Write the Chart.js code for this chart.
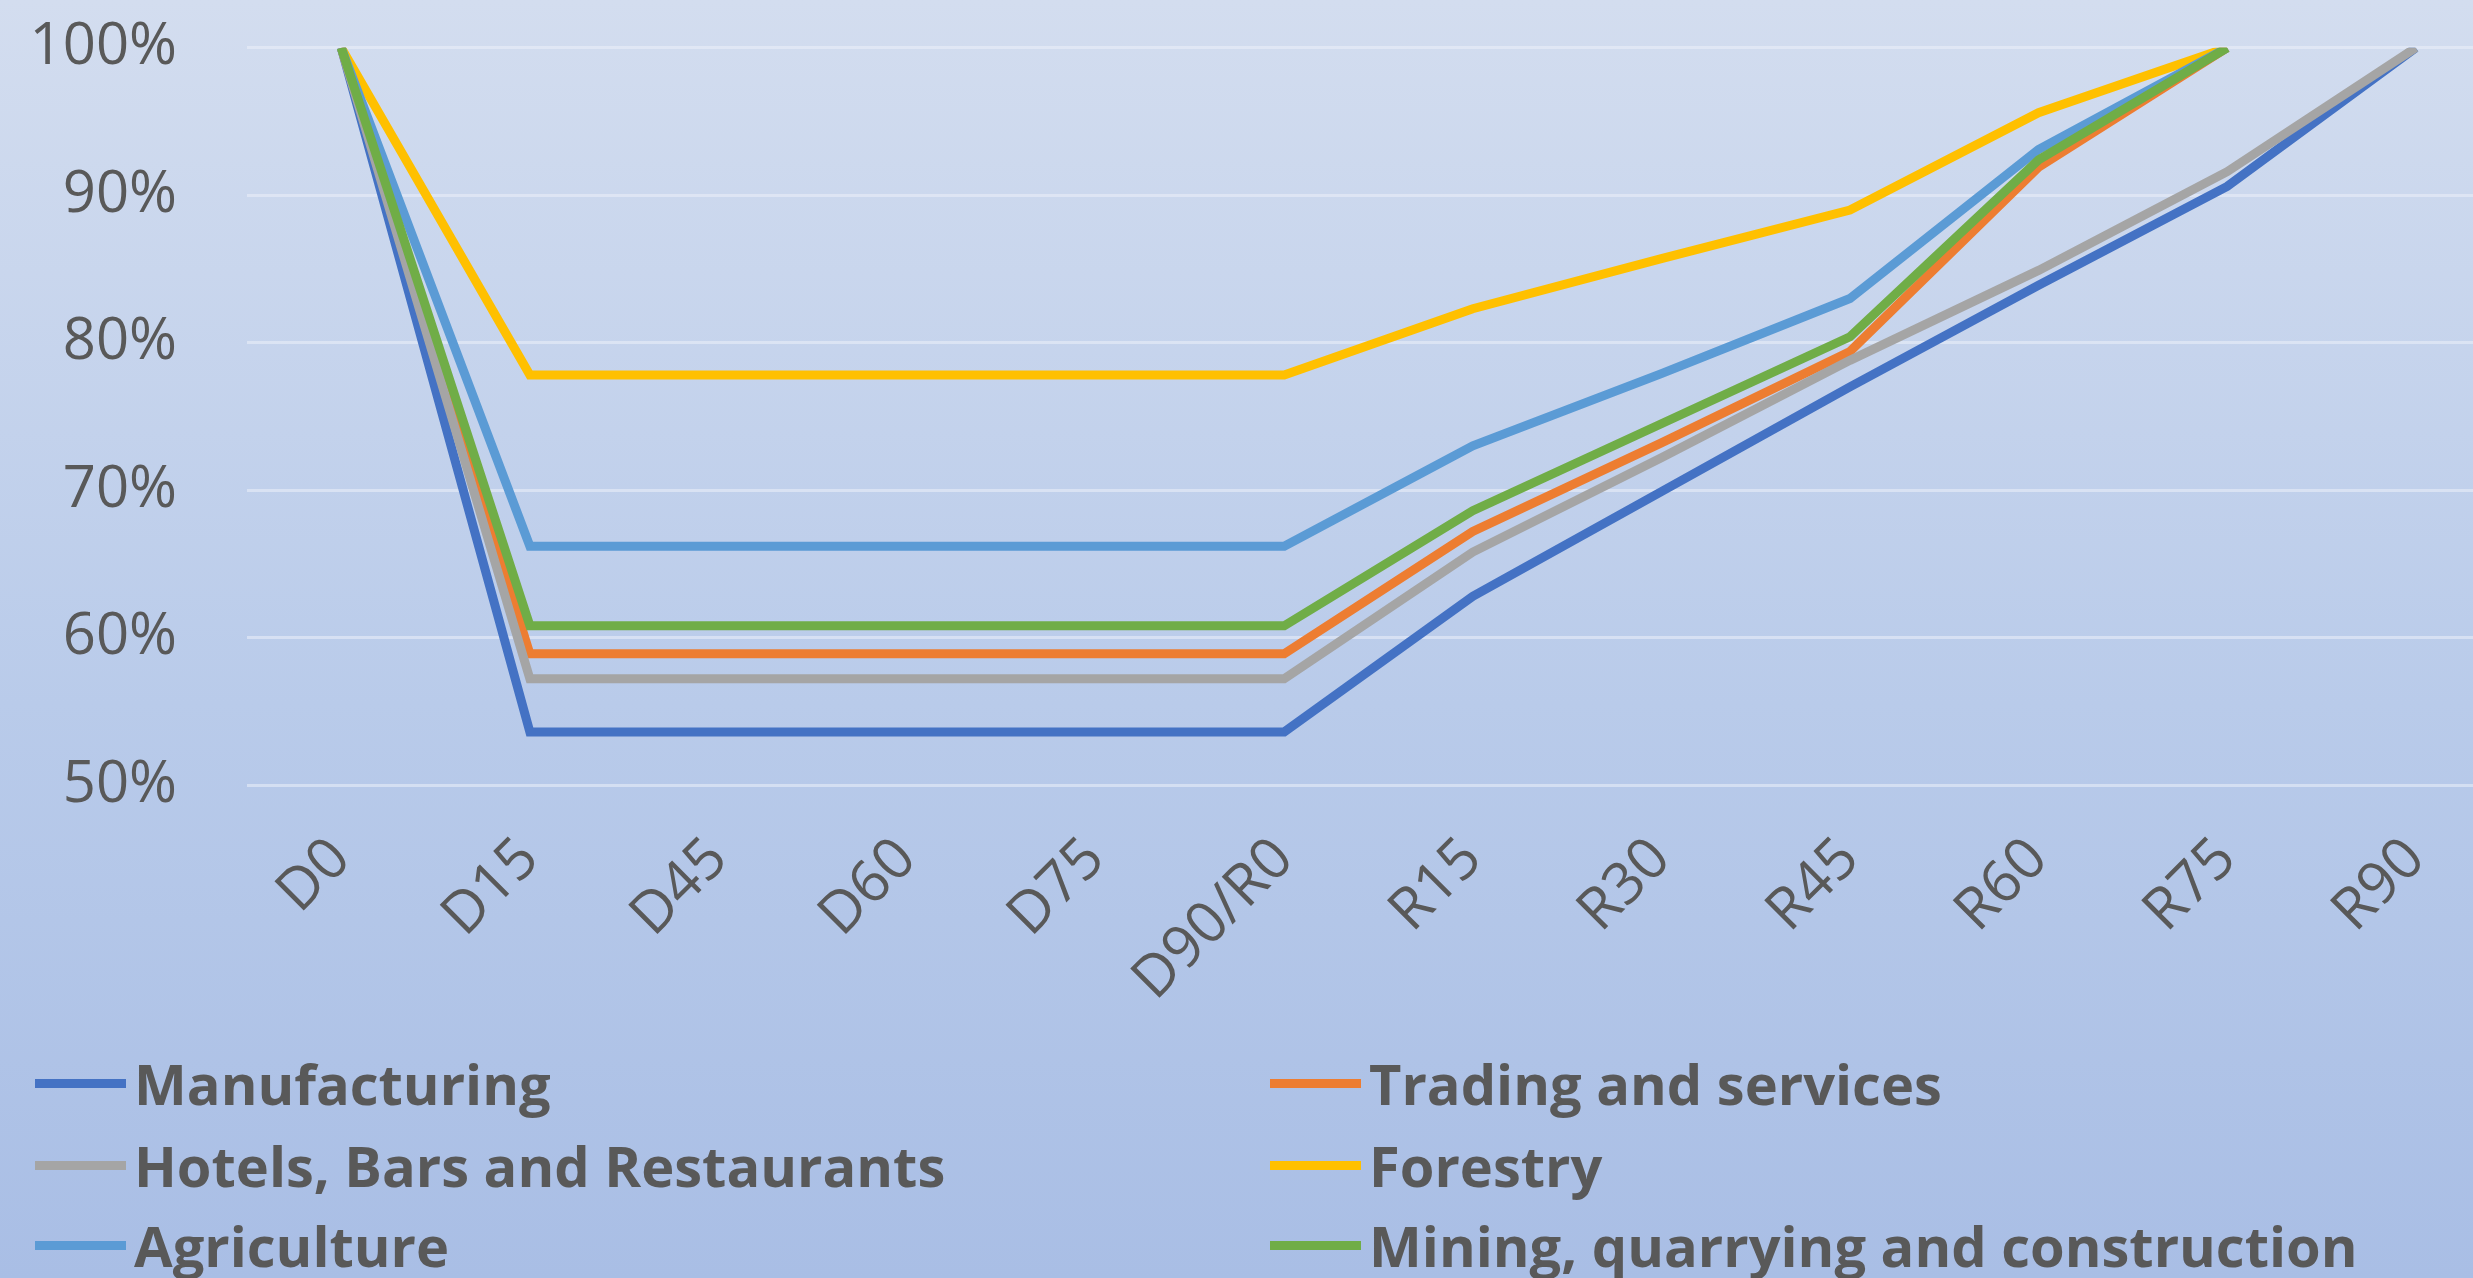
<!DOCTYPE html>
<html>
<head>
<meta charset="utf-8">
<script src="https://cdn.jsdelivr.net/npm/chart.js@4/dist/chart.umd.min.js"></script>
<style>
  html, body { margin: 0; padding: 0; }
  #wrap {
    position: relative;
    width: 2473px;
    height: 1278px;
    overflow: hidden;
    background: linear-gradient(to bottom, #d3ddef 0%, #b9cbea 55%, #a9bee5 100%);
    font-family: "Open Sans", sans-serif;
  }
  #box { position: absolute; left: 0; top: -57px; width: 2510px; height: 1087px; }
  #legend { position: absolute; left: 0; top: 0; width: 2473px; height: 1278px; pointer-events: none; }
  .item { position: absolute; display: flex; align-items: center; font-weight: 700; font-size: 56px; color: #595959; white-space: nowrap; }
  .item i { display: inline-block; width: 91px; height: 9px; margin-right: 8px; }
</style>
</head>
<body>
<div id="wrap">
  <div id="box"><canvas id="lineChart"></canvas></div>
  <div id="legend"></div>
</div>
<script>
// 가로축 구간
const periods = ["D0", "D15", "D45", "D60", "D75", "D90/R0", "R15", "R30", "R45", "R60", "R75", "R90"];

// 업종별 비율 (%)
const manufacturing = [100, 53.6, 53.6, 53.6, 53.6, 53.6, 62.8, 69.9, 77.0, 83.9, 90.6, 100];
const trading = [100, 58.9, 58.9, 58.9, 58.9, 58.9, 67.2, 73.2, 79.4, 91.9, 100, null];
const hotels = [100, 57.2, 57.2, 57.2, 57.2, 57.2, 65.8, 72.2, 78.8, 84.9, 91.6, 100];
const forestry = [100, 77.8, 77.8, 77.8, 77.8, 77.8, 82.3, 85.7, 89.0, 95.6, 100, null];
const agriculture = [100, 66.2, 66.2, 66.2, 66.2, 66.2, 73.0, 77.9, 83.0, 93.1, 100, null];
const mining = [100, 60.8, 60.8, 60.8, 60.8, 60.8, 68.6, 74.5, 80.4, 92.4, 100, null];

const yTicks = [50, 60, 70, 80, 90, 100];

const seriesNames = [
  "Manufacturing",
  "Trading and services",
  "Hotels, Bars and Restaurants",
  "Forestry",
  "Agriculture",
  "Mining, quarrying and construction",
];
const seriesData = [manufacturing, trading, hotels, forestry, agriculture, mining];
const seriesColors = ["#4472C4", "#ED7D31", "#A5A5A5", "#FFC000", "#5B9BD5", "#70AD47"];

const datasets = seriesNames.map((name, i) => ({
  label: name,
  data: seriesData[i],
  borderColor: seriesColors[i],
  backgroundColor: seriesColors[i],
  borderWidth: 9,
  pointRadius: 0,
  tension: 0,
  spanGaps: false,
  order: seriesNames.length - i, // 뒤 시리즈가 위에 그려지도록
}));

const tickFont = { family: "'Open Sans', sans-serif", size: 58 };

new Chart(document.getElementById("lineChart"), {
  type: "line",
  data: { labels: periods, datasets: datasets },
  options: {
    responsive: true,
    maintainAspectRatio: false,
    animation: false,
    layout: { padding: 0 },
    plugins: {
      legend: { display: false },
      tooltip: { enabled: false },
    },
    scales: {
      x: {
        offset: true,
        grid: { display: false, drawTicks: false },
        border: { display: false },
        ticks: {
          color: "#595959",
          font: tickFont,
          maxRotation: 45,
          minRotation: 45,
          autoSkip: false,
          padding: 40,
        },
        afterFit: (scale) => { scale.height = 245; },
      },
      y: {
        min: 50,
        max: 100,
        afterBuildTicks: (scale) => { scale.ticks = yTicks.map((v) => ({ value: v })); },
        grid: { color: "rgba(236, 241, 250, 0.55)", lineWidth: 3, drawTicks: false },
        border: { display: false },
        ticks: {
          color: "#595959",
          font: tickFont,
          padding: 70,
          callback: (value) => value + "%",
        },
        afterFit: (scale) => { scale.width = 247; },
      },
    },
  },
});

// 범례 (2열 3행)
const legendEl = document.getElementById("legend");
const colX = [35, 1270];
const rowY = [1083, 1165, 1245];
seriesNames.forEach((name, i) => {
  const item = document.createElement("div");
  item.className = "item";
  item.style.left = colX[i % 2] + "px";
  item.style.top = rowY[Math.floor(i / 2)] - 40 + "px";
  item.style.height = "80px";
  item.innerHTML = `<i style="background:${seriesColors[i]}"></i><span>${name}</span>`;
  legendEl.appendChild(item);
});
</script>
</body>
</html>
